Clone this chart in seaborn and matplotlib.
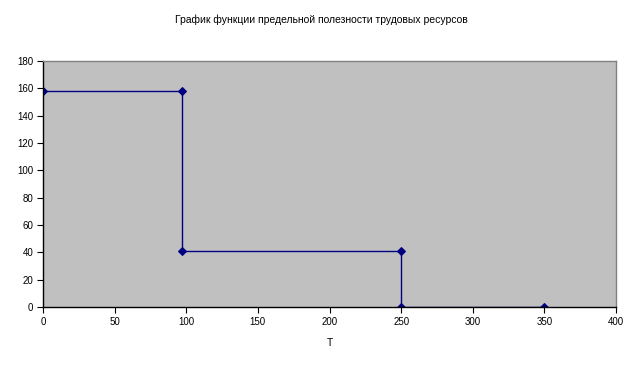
import matplotlib
matplotlib.use("Agg")
import matplotlib.pyplot as plt
import seaborn as sns
import pandas as pd

x_vals = [0, 97, 97, 250, 250, 350]
y_vals = [158, 158, 41, 41, 0, 0]
x_ticks = [0, 50, 100, 150, 200, 250, 300, 350, 400]
y_ticks = [0, 20, 40, 60, 80, 100, 120, 140, 160, 180]
title = "График функции предельной полезности трудовых ресурсов"
x_label = "T"

sns.set_theme(style="white")
plt.rcParams['font.family'] = ['Liberation Sans', 'DejaVu Sans']
plt.rcParams['text.color'] = 'black'
plt.rcParams['axes.labelcolor'] = 'black'
plt.rcParams['xtick.color'] = 'black'
plt.rcParams['ytick.color'] = 'black'

df = pd.DataFrame({"x": x_vals, "y": y_vals})

fig = plt.figure(figsize=(6.42, 3.71), dpi=100)
ax = fig.add_axes([43/642, (371-307)/371, (616-43)/642, (307-61)/371])
ax.set_facecolor("#c0c0c0")
sns.lineplot(data=df, x="x", y="y", sort=False, estimator=None, ax=ax,
             color="#000080", linewidth=1.0, marker="D", markersize=3.8,
             markeredgecolor="#000080", markerfacecolor="#000080")
ax.set_xlim(0, 400)
ax.set_ylim(0, 180)
ax.set_xticks(x_ticks)
ax.set_yticks(y_ticks)
ax.tick_params(axis="both", which="both", length=4, width=0.8, color="black",
               labelcolor="black", direction="out", labelsize=7,
               bottom=True, left=True, pad=3)
for s in ["left", "bottom"]:
    ax.spines[s].set_color("black")
    ax.spines[s].set_linewidth(1.0)
for s in ["top", "right"]:
    ax.spines[s].set_color("#808080")
    ax.spines[s].set_linewidth(1.0)
ax.set_xlabel(x_label, fontsize=7.5, labelpad=8, color="black")
ax.set_ylabel("")
fig.text(0.5, 1 - 20/371, title, ha="center", va="center", fontsize=7.5,
         color="black")
fig.savefig("out.png", dpi=100, facecolor="white")
